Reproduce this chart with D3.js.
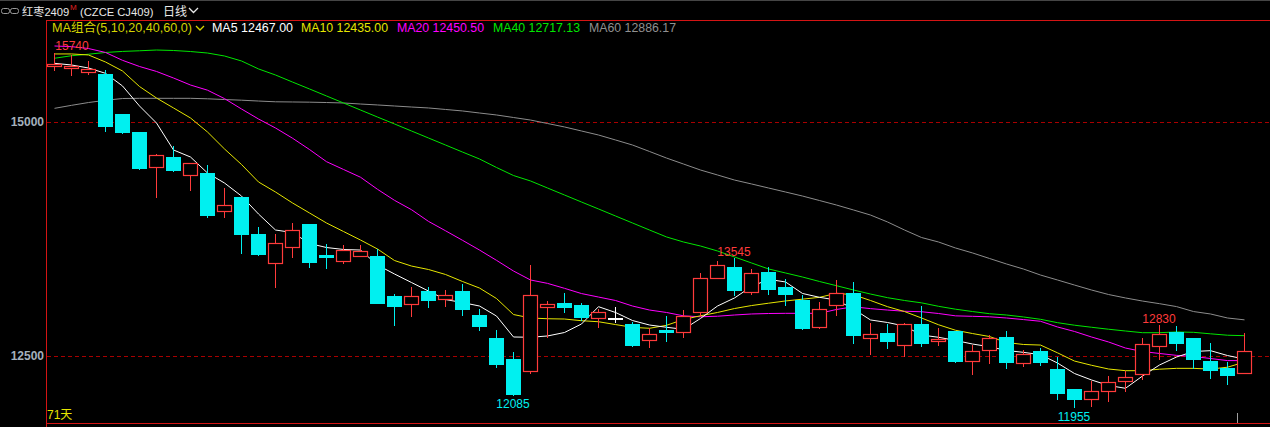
<!DOCTYPE html>
<html><head><meta charset="utf-8">
<script src="https://cdn.jsdelivr.net/npm/d3@7/dist/d3.min.js"></script>
<style>html,body{margin:0;padding:0;background:#000;overflow:hidden}text{font-family:"Liberation Sans","Noto Sans CJK SC",Arial,sans-serif}</style>
</head><body><svg id="c" width="1270" height="427"></svg>
<script>
// ---- data ----
const dayIndex = d3.range(71);
const opens  = [15595,15575,15535,15515,15085,14895,14520,14625,14430,14455,14045,14200,13805,13495,13660,13910,13580,13520,13570,13570,13140,13060,13195,13105,13195,12940,12690,12470,12345,13025,13070,13045,12910,12905,12840,12670,12780,12755,12975,13330,13450,13185,13395,13235,13100,12815,13050,13175,12695,12745,12620,12840,12655,12765,12450,12565,12705,12430,12555,12360,12145,12045,12130,12235,12310,12610,12755,12690,12445,12370,12320];
const highs  = [15740,15720,15650,15555,15090,14895,14660,14745,14565,14540,14290,14200,13875,13805,13920,13910,13695,13685,13685,13645,13160,13235,13235,13205,13270,13000,12780,12545,13470,13090,13175,13070,13000,13025,12865,12800,12925,12990,13385,13515,13545,13425,13455,13325,13150,13075,13310,13290,12855,12840,12855,13035,12800,12770,12615,12725,12765,12565,12585,12490,12150,12235,12285,12340,12690,12830,12820,12690,12640,12435,12745];
const lows   = [15555,15505,15515,14905,14885,14495,14200,14480,14275,13990,13990,13605,13580,13240,13555,13455,13435,13495,13570,13065,12835,12930,13025,13035,12940,12780,12385,12085,12320,12705,12965,12885,12815,12865,12605,12600,12655,12705,12925,13330,13150,13160,13160,13045,12790,12800,12940,12640,12520,12585,12500,12610,12615,12435,12310,12425,12370,12395,12405,12040,11955,11965,12020,12125,12250,12470,12565,12370,12265,12200,12320];
const closes = [15620,15600,15565,14960,14895,14510,14645,14490,14560,14010,14110,13805,13595,13705,13845,13505,13560,13630,13620,13070,13035,13140,13100,13150,13005,12825,12415,12095,13150,13055,13025,12920,12965,12905,12620,12730,12760,12925,13330,13470,13205,13385,13215,13160,12800,13000,13170,12725,12730,12665,12840,12640,12680,12445,12550,12690,12435,12520,12435,12105,12040,12125,12220,12275,12630,12735,12640,12470,12350,12295,12555];
const ma5  = [15627,15609,15577,15520,15385,15171,14989,14701,14626,14455,14348,14209,14017,13846,13819,13702,13659,13638,13632,13472,13376,13285,13194,13103,13071,13034,12927,12703,12700,12714,12751,12842,13027,12965,12879,12831,12807,12785,12901,13034,13120,13242,13319,13291,13168,13127,13098,13002,12885,12858,12820,12724,12700,12666,12628,12599,12559,12539,12514,12425,12313,12244,12185,12155,12286,12404,12489,12548,12557,12505,12467];
const ma10 = [15727,15727,15716,15641,15545,15379,15256,15150,15043,14893,14712,14546,14359,14252,14135,14028,13921,13830,13739,13643,13520,13461,13424,13371,13296,13226,13114,12943,12906,12898,12895,12877,12866,12836,12806,12796,12828,12890,12930,12965,13007,13039,13064,13088,13107,13127,13170,13154,13093,13027,12975,12906,12834,12775,12740,12708,12644,12623,12617,12534,12446,12401,12361,12343,12343,12359,12368,12368,12360,12380,12435];
const ma20 = [15812,15805,15785,15743,15659,15593,15540,15470,15395,15340,15250,15139,15032,14936,14827,14706,14576,14493,14410,14281,14163,14063,13938,13838,13736,13632,13522,13408,13312,13276,13223,13167,13130,13093,13034,12991,12965,12929,12919,12925,12938,12949,12954,12956,12956,12956,12997,13026,13006,12991,12978,12973,12954,12929,12924,12919,12906,12889,12871,12810,12762,12703,12650,12585,12548,12527,12507,12495,12473,12451,12450.5];
const ma40 = [15681,15708,15724,15743,15754,15761,15769,15764,15753,15737,15705,15652,15567,15502,15427,15353,15278,15203,15128,15053,14979,14904,14829,14754,14679,14605,14514,14428,14370,14295,14220,14145,14071,13996,13921,13846,13772,13718,13675,13622,13558,13494,13430,13387,13344,13296,13251,13205,13162,13123,13093,13068,13031,13000,12975,12952,12938,12917,12892,12856,12829,12807,12786,12767,12749,12749,12757,12753,12737,12722,12717.13];
const ma60 = [15146,15178,15208,15232,15251,15253,15253,15253,15253,15248,15240,15233,15224,15216,15214,15212,15208,15203,15192,15182,15171,15160,15150,15134,15118,15096,15075,15048,15021,14984,14947,14904,14861,14808,14754,14685,14615,14551,14487,14434,14380,14338,14295,14252,14209,14161,14113,14060,14006,13932,13846,13766,13718,13654,13601,13542,13483,13429,13365,13312,13258,13205,13157,13120,13087,13059,13028,12975,12949,12906,12886.17];
const maNames  = ["MA5","MA10","MA20","MA40","MA60"];
const maLast   = ["12467.00","12435.00","12450.50","12717.13","12886.17"];
const maColors = ["#ffffff","#e6e600","#ff00ff","#00e600","#8c8c8c"];
const yTicks = [12500, 15000];
const markIdx = [0, 40, 65, 27, 60];
const markVal = [15740, 13545, 12830, 12085, 11955];
const markHigh = [true, true, true, false, false];
const dayCount = "71天";

// ---- chart ----
const W = 1270, H = 427;
const RED = "#ff3b3b", CYAN = "#00f0f0", AXIS = "#d41414", GRID = "#a80000";
const svg = d3.select("#c");
svg.append("rect").attr("width", W).attr("height", H).attr("fill", "#000");

const x = d3.scaleBand().domain(dayIndex).range([45.5, 45.5 + 17 * 71]);
const cx = i => Math.round(x(i) + x.bandwidth() / 2);
const y = d3.scaleLinear().domain([12500, 15000]).range([356, 122]);
const py = v => Math.round(y(v)) + 0.5;

// top strip line
svg.append("line").attr("x1", 0).attr("x2", W).attr("y1", 0.5).attr("y2", 0.5).attr("stroke", "#454545");

// title
const title = svg.append("g");
title.append("rect").attr("x", 1.5).attr("y", 8.5).attr("width", 8).attr("height", 5).attr("rx", 2).attr("fill", "none").attr("stroke", "#9a9a9a");
title.append("rect").attr("x", 10.5).attr("y", 8.5).attr("width", 8).attr("height", 5).attr("rx", 2).attr("fill", "none").attr("stroke", "#9a9a9a");
title.append("text").attr("x", 22).attr("y", 16).attr("fill", "#e8e8e8").attr("font-size", 11.2).text("红枣2409");
title.append("text").attr("x", 70).attr("y", 10).attr("fill", "#e02020").attr("font-size", 8).text("M");
title.append("text").attr("x", 80).attr("y", 16).attr("fill", "#e8e8e8").attr("font-size", 11.2).text("(CZCE CJ409)");
title.append("text").attr("x", 163).attr("y", 16).attr("fill", "#e8e8e8").attr("font-size", 12).text("日线");
title.append("path").attr("d", "M189,8 L193.5,12.5 L198,8").attr("fill", "none").attr("stroke", "#e8e8e8").attr("stroke-width", 1.3);

function fitText(sel, x0, yb, w, txt, size, fill) {
  return sel.append("text").attr("x", x0).attr("y", yb).attr("fill", fill).attr("font-size", size)
    .attr("textLength", w).attr("lengthAdjust", "spacingAndGlyphs").text(txt);
}

// frame
svg.append("line").attr("x1", 46).attr("x2", W).attr("y1", 20.5).attr("y2", 20.5).attr("stroke", AXIS);
svg.append("line").attr("x1", 46.5).attr("x2", 46.5).attr("y1", 20).attr("y2", H).attr("stroke", AXIS);
svg.append("line").attr("x1", 46).attr("x2", W).attr("y1", 423.5).attr("y2", 423.5).attr("stroke", AXIS);

// grid + y axis
svg.selectAll(".grid").data(yTicks).enter().append("line")
  .attr("x1", 47).attr("x2", W).attr("y1", d => py(d)).attr("y2", d => py(d))
  .attr("stroke", GRID).attr("stroke-dasharray", "4,3");
const yAxis = d3.axisLeft(y).tickValues(yTicks).tickSize(0).tickPadding(0).tickFormat(d3.format("d"));
const ga = svg.append("g").attr("transform", "translate(44,0)").call(yAxis);
ga.select(".domain").remove();
ga.selectAll("text").attr("fill", "#a4b0bc").attr("font-size", 12).attr("font-weight", "bold")
  .attr("font-family", "Liberation Sans, Arial, sans-serif");

// MA lines
const maSeries = [ma60, ma40, ma20, ma10, ma5];
const maCol = [maColors[4], maColors[3], maColors[2], maColors[1], maColors[0]];
const line = d3.line().x((d, i) => cx(i) + 0.5).y(d => y(d));
maSeries.forEach((s, k) => {
  svg.append("path").attr("d", line(s)).attr("fill", "none").attr("stroke", maCol[k]).attr("stroke-width", 1);
});

// candles
const g = svg.append("g");
dayIndex.forEach(i => {
  const o = opens[i], c = closes[i], h = highs[i], l = lows[i];
  const col = c > o ? RED : (c < o ? CYAN : "#ffffff");
  const X = cx(i);
  g.append("line").attr("x1", X + 0.5).attr("x2", X + 0.5).attr("y1", Math.round(y(h))).attr("y2", Math.round(y(l)) + 1)
    .attr("stroke", col);
  const top = Math.round(y(Math.max(o, c))), bot = Math.round(y(Math.min(o, c)));
  if (bot - top < 2) {
    g.append("rect").attr("x", X - 7).attr("y", top).attr("width", 15).attr("height", Math.max(2, bot - top)).attr("fill", col);
  } else if (c > o) {
    g.append("rect").attr("x", X - 6.5).attr("y", top + 0.5).attr("width", 14).attr("height", bot - top)
      .attr("fill", "#000").attr("stroke", col).attr("stroke-width", 1.2);
  } else {
    g.append("rect").attr("x", X - 7).attr("y", top).attr("width", 15).attr("height", bot - top + 1).attr("fill", col);
  }
});

// high/low marks
markIdx.forEach((idx, k) => {
  const v = markVal[k];
  let X = cx(idx);
  const t = svg.append("text").attr("font-size", 12).attr("fill", markHigh[k] ? RED : CYAN)
    .attr("text-anchor", "middle").text(String(v));
  if (X - 17 < 55) X = 55 + 17;
  t.attr("x", X).attr("y", markHigh[k] ? y(v) - 2.5 : y(v) + 13.5);
});

// legend
const lg = svg.append("g");
fitText(lg, 52, 32, 140, "MA组合(5,10,20,40,60,0)", 12.5, "#d4d400");
lg.append("path").attr("d", "M196,26 L200,30 L204,26").attr("fill", "none").attr("stroke", "#d4d400").attr("stroke-width", 1.3);
const legX = [212, 301, 397, 493, 589];
const legW = [81, 87, 87, 87, 87];
maNames.forEach((n, k) => {
  fitText(lg, legX[k], 32, legW[k], n + " " + maLast[k], 12.5, maColors[k] === "#8c8c8c" ? "#909090" : maColors[k]);
});

// day count + cursor mark
svg.append("text").attr("x", 47).attr("y", 419).attr("fill", "#e6e600").attr("font-size", 12).text(dayCount);
svg.append("line").attr("x1", 1237.5).attr("x2", 1237.5).attr("y1", 413).attr("y2", 423).attr("stroke", "#a0a0a0");
</script></body></html>
